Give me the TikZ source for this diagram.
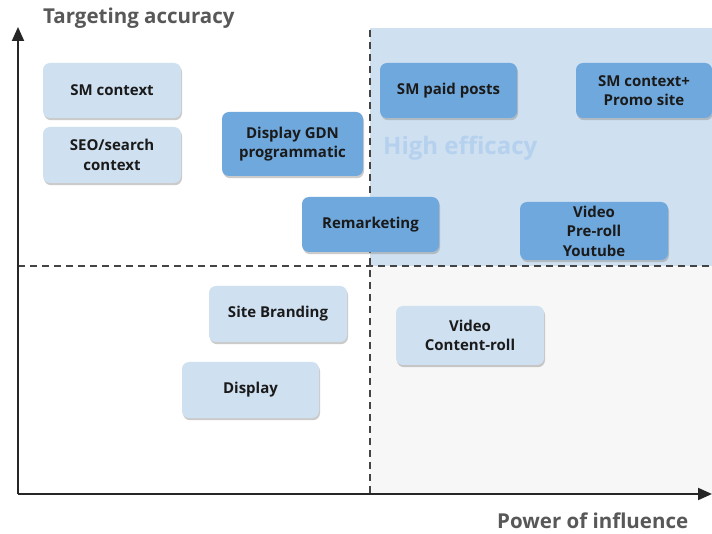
\documentclass[tikz,border=0pt]{standalone}
\usepackage{fontspec}
\setmainfont{Open Sans}
\usetikzlibrary{arrows.meta,shadows}
\definecolor{lightbox}{HTML}{CFE0F1}
\definecolor{darkbox}{HTML}{6FA8DC}
\definecolor{quadblue}{HTML}{CFE0F1}
\definecolor{quadgray}{HTML}{F7F7F7}
\definecolor{effic}{HTML}{B5D1EE}
\definecolor{axislab}{HTML}{585858}
\definecolor{boxtext}{HTML}{1A1A1A}
\definecolor{dashcol}{HTML}{444444}
\tikzset{
  card/.style={rounded corners=7pt, draw=none, align=center, text=boxtext,
    font=\fontsize{15}{19.5}\selectfont\bfseries,
    drop shadow={shadow xshift=1pt, shadow yshift=-2.2pt, fill=black!45, opacity=0.45},
    inner sep=0pt},
  lightcard/.style={card, fill=lightbox},
  darkcard/.style={card, fill=darkbox},
  divider/.style={dashcol, line width=2.4pt, dash pattern=on 7pt off 5pt},
  axisline/.style={black!85, line width=2pt, -{Triangle[length=14pt,width=12pt]}},
  axlabel/.style={text=axislab, font=\fontsize{20.5}{24}\selectfont\bfseries, inner sep=0pt}
}
\begin{document}
\begin{tikzpicture}[x=1pt,y=-1pt]
\useasboundingbox (0,0) rectangle (712,534);
\fill[white] (0,0) rectangle (712,534);
% quadrants
\fill[quadblue] (370,28) rectangle (712,266);
\fill[quadgray] (370,266) rectangle (712,493);
\node[text=effic, font=\fontsize{24}{28}\selectfont\bfseries, anchor=west, inner sep=0pt] (hi) at (383,148) {High efficacy};
% dividers
\coordinate (vtop) at (370,30);
\coordinate (vbot) at (370,493);
\coordinate (hleft) at (18,266);
\coordinate (hright) at (712,266);
\draw[divider] (vtop) -- (vbot);
\draw[divider] (hleft) -- (hright);
% boxes
\node[lightcard, minimum width=138pt, minimum height=55pt] (smc) at (112,90.5) {SM context};
\node[lightcard, minimum width=138pt, minimum height=56pt] (seo) at (112,155) {SEO/search\\context};
\node[darkcard, minimum width=141pt, minimum height=64pt] (gdn) at (292.5,144) {Display GDN\\programmatic};
\node[darkcard, minimum width=137pt, minimum height=55pt] (rem) at (370.5,224.5) {Remarketing};
\node[darkcard, minimum width=137pt, minimum height=55pt] (smp) at (448.5,90.5) {SM paid posts};
\node[darkcard, minimum width=136pt, minimum height=55pt] (smpromo) at (644,90.5) {SM context+\\Promo site};
\node[darkcard, minimum width=148pt, minimum height=58pt] (vpre) at (594,231) {Video\\Pre-roll\\Youtube};
\node[lightcard, minimum width=138pt, minimum height=56pt] (site) at (278,314) {Site Branding};
\node[lightcard, minimum width=137pt, minimum height=56pt] (disp) at (250.5,390) {Display};
\node[lightcard, minimum width=148pt, minimum height=59pt] (vcr) at (470,335.5) {Video\\Content-roll};
% axes
\coordinate (origin) at (18,494);
\coordinate (ytip) at (18,27);
\coordinate (xtip) at (712,494);
\draw[axisline] (origin) -- (ytip);
\draw[axisline] (origin) -- (xtip);
\node[axlabel, anchor=west] (ylab) at (43,18) {Targeting accuracy};
\node[axlabel, anchor=west] (xlab) at (497,521) {Power of influence};
\end{tikzpicture}
\end{document}
